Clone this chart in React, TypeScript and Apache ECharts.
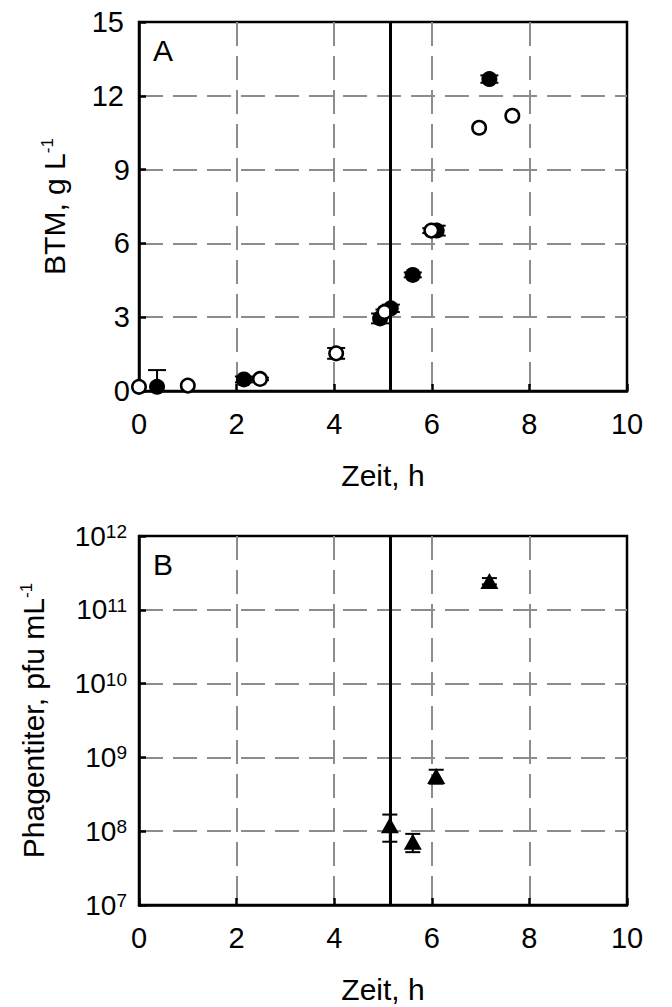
import React, { useEffect, useRef } from "react";
import * as echarts from "echarts";

// ---- Data ----
const timeTicksMin = 0;
const timeTicksMax = 10;
const timeInterval = 2;
const btmMax = 15;
const btmInterval = 3;
const titerMin = 1e7;
const titerMax = 1e12;

// Panel A – filled circles
const filledTime = [0.37, 2.15, 4.94, 5.16, 5.61, 6.1, 7.18];
const filledBTM = [0.17, 0.47, 2.95, 3.36, 4.72, 6.52, 12.68];
const filledErr = [0.68, 0.12, 0.2, 0.15, 0.1, 0.2, 0.15];

// Panel A – open circles
const openTime = [0.0, 1.0, 2.48, 4.04, 5.03, 5.99, 6.97, 7.65];
const openBTM = [0.17, 0.22, 0.49, 1.53, 3.21, 6.52, 10.7, 11.19];
const openErr = [0, 0, 0.05, 0.22, 0.1, 0.1, 0, 0];

// Panel B – phage titer
const phageTime = [5.14, 5.61, 6.09, 7.18];
const phageTiter = [1.2e8, 7.2e7, 5.6e8, 2.45e11];
const phageErr = [4.8e7, 2.0e7, 1.2e8, 2.4e10];

const infectionTime = 5.15;

const FONT = "Liberation Sans, Arial, Helvetica, sans-serif";
const FS = 30;
const FL = 29;

function errData(xs: number[], ys: number[], es: number[]) {
  const out: number[][] = [];
  xs.forEach((x, i) => {
    if (es[i] > 0) out.push([x, ys[i] - es[i], ys[i] + es[i]]);
  });
  return out;
}

function errorRender(capW: number) {
  return (params: any, api: any) => {
    const x = api.value(0);
    const lo = api.value(1);
    const hi = api.value(2);
    const pLo = api.coord([x, lo]);
    const pHi = api.coord([x, hi]);
    const h = capW / 2;
    const style = { stroke: "#000", lineWidth: 2 };
    return {
      type: "group",
      children: [
        { type: "line", shape: { x1: pHi[0], y1: pHi[1], x2: pLo[0], y2: pLo[1] }, style },
        { type: "line", shape: { x1: pHi[0] - h, y1: pHi[1], x2: pHi[0] + h, y2: pHi[1] }, style },
        { type: "line", shape: { x1: pLo[0] - h, y1: pLo[1], x2: pLo[0] + h, y2: pLo[1] }, style },
      ],
    };
  };
}

const axisLineStyle = { color: "#000", width: 2.5 };
const splitLineStyle = { color: "#8c8c8c", width: 2, type: [24, 10] as any };

function xAxisCfg(gridIndex: number) {
  return {
    type: "value",
    gridIndex,
    min: timeTicksMin,
    max: timeTicksMax,
    interval: timeInterval,
    name: "Zeit, h",
    nameLocation: "middle",
    nameGap: 69,
    nameMoveOverlap: false,
    nameTextStyle: { fontSize: FS, fontFamily: FONT, color: "#000" },
    axisLine: { show: true, lineStyle: axisLineStyle },
    axisTick: { show: true, inside: true, length: 7, lineStyle: { color: "#000", width: 2.5 } },
    axisLabel: { fontSize: FL, fontFamily: FONT, color: "#000", margin: 18 },
    splitLine: { show: true, showMinLine: false, showMaxLine: false, lineStyle: splitLineStyle },
  };
}

const markLineCfg = {
  silent: true,
  symbol: ["none", "none"],
  label: { show: false },
  lineStyle: { color: "#000", width: 3, type: "solid", opacity: 1 },
  emphasis: { disabled: true },
  data: [{ xAxis: infectionTime }],
};

const supRich = { s: { fontSize: 17, lineHeight: 17, verticalAlign: "top", fontFamily: FONT, color: "#000" } };

export default function App() {
  const ref = useRef<HTMLDivElement>(null);
  useEffect(() => {
    if (!ref.current) return;
    const chart = echarts.init(ref.current, undefined, { renderer: "svg" });
    const option: any = {
      animation: false,
      backgroundColor: "#fff",
      grid: [
        { left: 139, top: 22, width: 488, height: 369, show: true, borderColor: "#000", borderWidth: 2.5, backgroundColor: "transparent" },
        { left: 139, top: 536, width: 488, height: 369, show: true, borderColor: "#000", borderWidth: 2.5, backgroundColor: "transparent" },
      ],
      xAxis: [xAxisCfg(0), xAxisCfg(1)],
      yAxis: [
        {
          type: "value",
          gridIndex: 0,
          min: 0,
          max: btmMax,
          interval: btmInterval,
          name: "BTM, g L{s|-1}",
          nameLocation: "middle",
          nameRotate: 90,
          nameGap: 70,
          nameMoveOverlap: false,
          nameTextStyle: { fontSize: FS, fontFamily: FONT, color: "#000", rich: supRich },
          axisLine: { show: true, lineStyle: axisLineStyle },
          axisTick: { show: true, inside: true, length: 7, lineStyle: { color: "#000", width: 2.5 } },
          axisLabel: {
            fontSize: FL,
            fontFamily: FONT,
            color: "#000",
            margin: 9,
            formatter: (v: number) => (v >= 10 ? `{w|${v}}` : `${v}`),
            rich: { w: { fontSize: FL, fontFamily: FONT, color: "#000", padding: [0, 6, 0, 0] } },
          },
          splitLine: { show: true, showMinLine: false, showMaxLine: false, lineStyle: splitLineStyle },
        },
        {
          type: "log",
          logBase: 10,
          gridIndex: 1,
          min: titerMin,
          max: titerMax,
          splitNumber: 5,
          name: "Phagentiter, pfu mL{s|-1}",
          nameLocation: "middle",
          nameRotate: 90,
          nameGap: 91,
          nameMoveOverlap: false,
          nameTextStyle: { fontSize: FS, fontFamily: FONT, color: "#000", rich: supRich },
          axisLine: { show: true, lineStyle: axisLineStyle },
          axisTick: { show: true, inside: true, length: 7, lineStyle: { color: "#000", width: 2.5 } },
          axisLabel: {
            margin: 12,
            formatter: (v: number) => `{b|10}{s|${Math.round(Math.log10(v))}}`,
            rich: {
              b: { fontSize: 28, lineHeight: 28, fontFamily: FONT, color: "#000" },
              s: { fontSize: 19, lineHeight: 19, verticalAlign: "top", fontFamily: FONT, color: "#000" },
            },
          },
          splitLine: { show: true, showMinLine: false, showMaxLine: false, lineStyle: splitLineStyle },
        },
      ],
      graphic: [
        { type: "text", left: 153, top: 35, style: { text: "A", fill: "#000", font: `${FS}px ${FONT}` } },
        { type: "text", left: 153, top: 549, style: { text: "B", fill: "#000", font: `${FS}px ${FONT}` } },
      ],
      series: [
        {
          type: "custom",
          xAxisIndex: 0,
          yAxisIndex: 0,
          clip: true,
          z: 2,
          encode: { x: 0, y: [1, 2] },
          renderItem: errorRender(18),
          data: errData(filledTime, filledBTM, filledErr),
        },
        {
          type: "custom",
          xAxisIndex: 0,
          yAxisIndex: 0,
          clip: true,
          z: 2,
          encode: { x: 0, y: [1, 2] },
          renderItem: errorRender(18),
          data: errData(openTime, openBTM, openErr),
        },
        {
          type: "scatter",
          xAxisIndex: 0,
          yAxisIndex: 0,
          z: 3,
          symbol: "circle",
          symbolSize: 16,
          itemStyle: { color: "#000", opacity: 1 },
          data: filledTime.map((t, i) => [t, filledBTM[i]]),
          markLine: markLineCfg,
        },
        {
          type: "scatter",
          xAxisIndex: 0,
          yAxisIndex: 0,
          z: 4,
          symbol: "circle",
          symbolSize: 13.5,
          itemStyle: { color: "#fff", borderColor: "#000", borderWidth: 2.5, opacity: 1 },
          data: openTime.map((t, i) => [t, openBTM[i]]),
        },
        {
          type: "custom",
          xAxisIndex: 1,
          yAxisIndex: 1,
          clip: true,
          z: 2,
          encode: { x: 0, y: [1, 2] },
          renderItem: errorRender(15),
          data: errData(phageTime, phageTiter, phageErr),
        },
        {
          type: "scatter",
          xAxisIndex: 1,
          yAxisIndex: 1,
          z: 3,
          symbol: "triangle",
          symbolSize: [18, 16],
          itemStyle: { color: "#000", opacity: 1 },
          data: phageTime.map((t, i) => [t, phageTiter[i]]),
          markLine: markLineCfg,
        },
      ],
    };
    chart.setOption(option);
    return () => chart.dispose();
  }, []);
  return (
    <div
      ref={ref}
      style={{ position: "absolute", left: 0, top: 0, width: 672, height: 1007, background: "#fff" }}
    />
  );
}
